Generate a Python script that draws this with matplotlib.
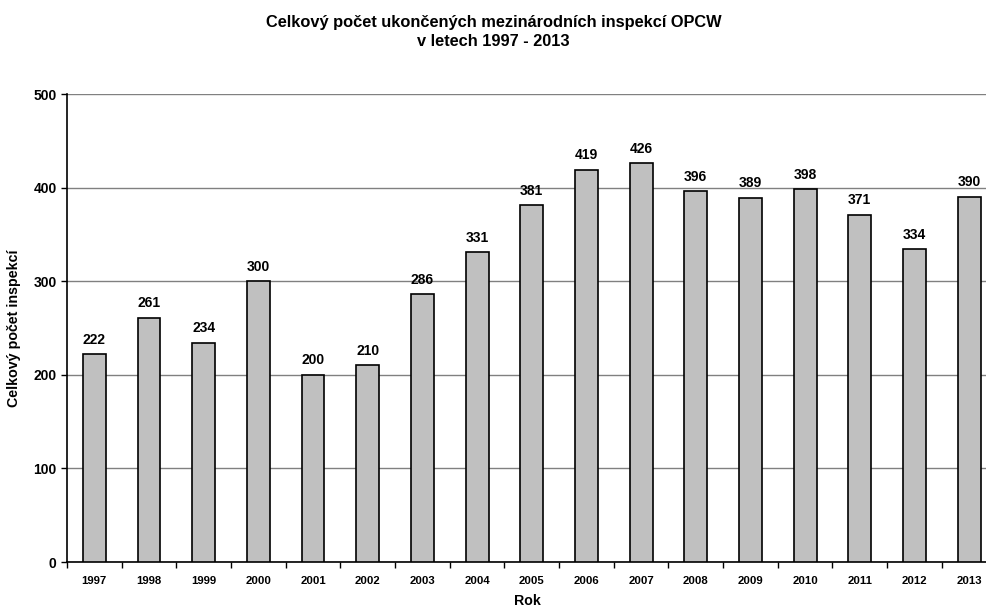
import matplotlib.pyplot as plt
import numpy as np

plt.rcParams['font.family'] = ['Liberation Sans', 'DejaVu Sans']
plt.rcParams['font.weight'] = 'bold'

years = ["1997", "1998", "1999", "2000", "2001", "2002", "2003", "2004", "2005",
         "2006", "2007", "2008", "2009", "2010", "2011", "2012", "2013"]
inspections = [222, 261, 234, 300, 200, 210, 286, 331, 381,
               419, 426, 396, 389, 398, 371, 334, 390]

fig = plt.figure(figsize=(9.87, 6.08), dpi=100)
ax = fig.add_axes([67 / 987, (608 - 562) / 608, 920 / 987, (562 - 94) / 608])

x = np.arange(len(years))
bars = ax.bar(x, inspections, width=0.42, color='#c0c0c0', edgecolor='black',
              linewidth=1.2, zorder=3)
for xi, v in zip(x, inspections):
    ax.text(xi, v + 8, str(v), ha='center', va='bottom', fontsize=10,
            fontweight='bold')

ax.set_xlim(-0.5, -0.5 + 920 / 54.67)
ax.set_ylim(0, 500)
ax.set_yticks([0, 100, 200, 300, 400, 500])
ax.tick_params(axis='y', labelsize=10, length=4, width=1)
ax.yaxis.grid(True, color='#808080', linewidth=1, zorder=0)

# x ticks sit between the categories, labels at category centres
ax.set_xticks(x - 0.5)
ax.set_xticklabels([])
ax.set_xticks(x, minor=True)
ax.set_xticklabels(years, minor=True, fontsize=8.2, fontweight='bold')
ax.tick_params(axis='x', which='major', length=4, width=1, direction='out')
ax.tick_params(axis='x', which='minor', length=0, pad=10)

ax.spines['top'].set_visible(False)
ax.spines['right'].set_visible(False)
ax.spines['left'].set_linewidth(1.2)
ax.spines['bottom'].set_linewidth(1.2)

ax.set_ylabel("Celkový počet inspekcí", fontsize=10.3, fontweight='bold', labelpad=9)
ax.set_xlabel("Rok", fontsize=10.2, fontweight='bold', labelpad=6)

fig.text(0.5, 1 - 22 / 608, "Celkový počet ukončených mezinárodních inspekcí OPCW",
         ha='center', va='center', fontsize=11.8, fontweight='bold')
fig.text(0.5, 1 - 42 / 608, "v letech 1997 - 2013",
         ha='center', va='center', fontsize=11.8, fontweight='bold')

fig.savefig("out.png", dpi=100)
